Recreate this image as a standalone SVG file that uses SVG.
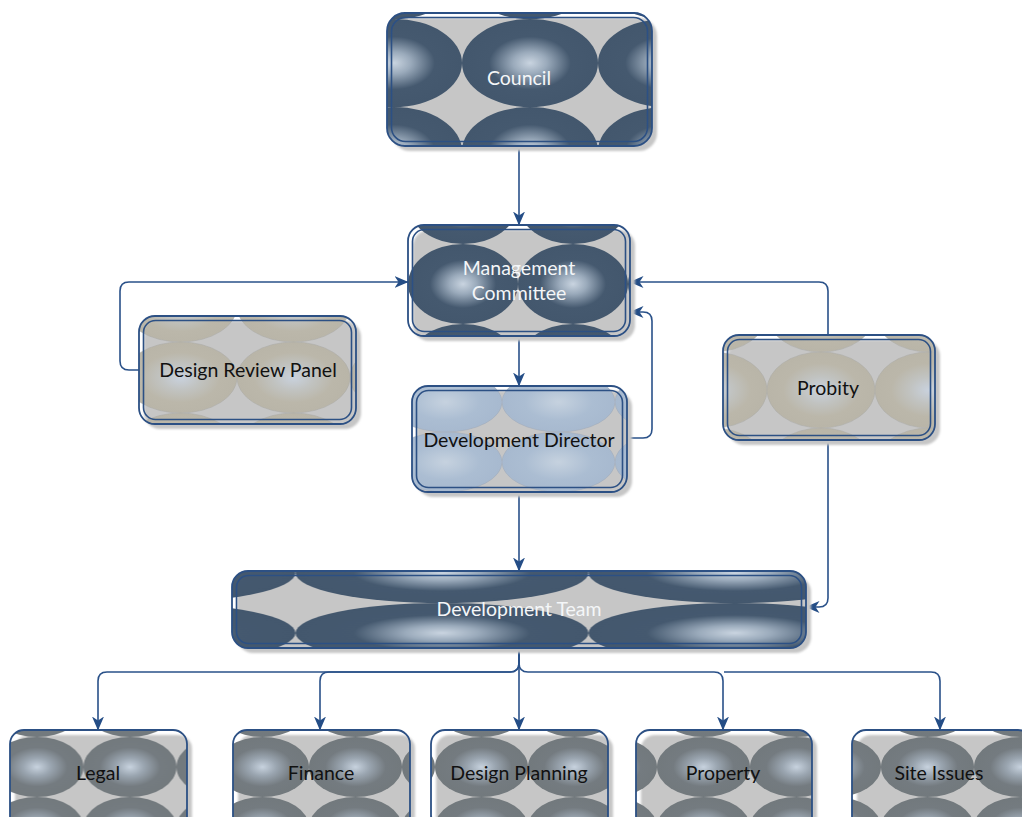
<svg xmlns="http://www.w3.org/2000/svg" width="1022" height="817" viewBox="0 0 1022 817">
<style>
.bg{fill:#ffffff}
.shadow{fill:#c6c6c6;filter:url(#blur)}
.ob{fill:none;stroke:#2c5084;stroke-width:1.8}
.ib{fill:none;stroke:#2c5084;stroke-width:1.6}
.conn{fill:none;stroke:#2a5189;stroke-width:1.6;marker-end:url(#arr)}
.conn2{fill:none;stroke:#2a5189;stroke-width:1.6}
.t{font-family:Lato,"Liberation Sans",sans-serif;font-size:19.5px;text-anchor:middle}
.tw{fill:#f4f6f8}
.tb{fill:#111111}
</style>
<defs>
<filter id="blur" x="-5%" y="-5%" width="110%" height="110%"><feGaussianBlur stdDeviation="1.2"/></filter>
<radialGradient id="g-dark" cx="0.5" cy="0.5" r="0.5">
<stop offset="0" stop-color="#c9d4e0"/>
<stop offset="0.25" stop-color="#9aaabb"/>
<stop offset="0.6" stop-color="#45596f"/>
<stop offset="1" stop-color="#43576d"/>
</radialGradient>
<radialGradient id="g-tan" cx="0.5" cy="0.5" r="0.5">
<stop offset="0" stop-color="#c9d2de"/>
<stop offset="0.35" stop-color="#c1c3c1"/>
<stop offset="0.7" stop-color="#bbb7aa"/>
<stop offset="1" stop-color="#b9b5a8"/>
</radialGradient>
<radialGradient id="g-blue" cx="0.5" cy="0.5" r="0.5">
<stop offset="0" stop-color="#c6d2df"/>
<stop offset="0.6" stop-color="#abbdd2"/>
<stop offset="1" stop-color="#a7b9cf"/>
</radialGradient>
<radialGradient id="g-grey" cx="0.5" cy="0.5" r="0.5">
<stop offset="0" stop-color="#c7d2de"/>
<stop offset="0.3" stop-color="#9aa5b0"/>
<stop offset="0.65" stop-color="#747b80"/>
<stop offset="1" stop-color="#72797d"/>
</radialGradient>
<pattern id="p-council" patternUnits="userSpaceOnUse" x="462" y="19" width="136" height="88"><ellipse cx="68" cy="44" rx="68" ry="44" fill="url(#g-dark)"/></pattern>
<pattern id="p-mgmt" patternUnits="userSpaceOnUse" x="408" y="244" width="110" height="80"><ellipse cx="55" cy="40" rx="55" ry="40" fill="url(#g-dark)"/></pattern>
<pattern id="p-drp" patternUnits="userSpaceOnUse" x="124" y="342" width="113" height="71"><ellipse cx="56.5" cy="35.5" rx="56.5" ry="35.5" fill="url(#g-tan)" stroke="#a9a9a4" stroke-width="0.5"/></pattern>
<pattern id="p-probity" patternUnits="userSpaceOnUse" x="767" y="352" width="108" height="76"><ellipse cx="54" cy="38" rx="54" ry="38" fill="url(#g-tan)" stroke="#a9a9a4" stroke-width="0.5"/></pattern>
<pattern id="p-dd" patternUnits="userSpaceOnUse" x="389" y="372" width="113" height="60"><ellipse cx="56.5" cy="30" rx="56.5" ry="30" fill="url(#g-blue)" stroke="#a0a8b4" stroke-width="0.5"/></pattern>
<pattern id="p-team" patternUnits="userSpaceOnUse" x="295.5" y="543" width="293" height="60"><ellipse cx="146.5" cy="30" rx="146.5" ry="30" fill="url(#g-dark)"/></pattern>
<pattern id="p-legal" patternUnits="userSpaceOnUse" x="83.5" y="737" width="93" height="60"><ellipse cx="46.5" cy="30" rx="46.5" ry="30" fill="url(#g-grey)"/></pattern>
<pattern id="p-finance" patternUnits="userSpaceOnUse" x="309" y="737" width="93" height="60"><ellipse cx="46.5" cy="30" rx="46.5" ry="30" fill="url(#g-grey)"/></pattern>
<pattern id="p-dp" patternUnits="userSpaceOnUse" x="435" y="737" width="93" height="60"><ellipse cx="46.5" cy="30" rx="46.5" ry="30" fill="url(#g-grey)"/></pattern>
<pattern id="p-prop" patternUnits="userSpaceOnUse" x="657" y="737" width="93" height="60"><ellipse cx="46.5" cy="30" rx="46.5" ry="30" fill="url(#g-grey)"/></pattern>
<pattern id="p-site" patternUnits="userSpaceOnUse" x="881" y="737" width="93" height="60"><ellipse cx="46.5" cy="30" rx="46.5" ry="30" fill="url(#g-grey)"/></pattern>
<marker id="arr" viewBox="0 0 14 12" refX="13.5" refY="6" markerWidth="14" markerHeight="12" markerUnits="userSpaceOnUse" orient="auto">
<path d="M0,0 L14,6 L0,12 L4,6 Z" fill="#244d86"/>
</marker>
</defs>
<rect class="bg" x="0" y="0" width="1022" height="817"/>

<g id="connectors">
<path class="conn" d="M519,146 V225"/>
<path class="conn" d="M519,336 V386"/>
<path class="conn" d="M519,492 V571"/>
<path class="conn" d="M139,370 H129 Q120,370 120,361 V291 Q120,282 129,282 H408"/>
<path class="conn" d="M828,335 V291 Q828,282 819,282 H630"/>
<path class="conn" d="M627,438 H643 Q652,438 652,429 V321 Q652,312 643,312 H630"/>
<path class="conn" d="M828,440 V598 Q828,607 819,607 H806"/>
<path class="conn" d="M519,648 V663 Q519,672 510,672 H107 Q98,672 98,681 V730"/>
<path class="conn" d="M519,648 V663 Q519,672 510,672 H329 Q320,672 320,681 V730"/>
<path class="conn" d="M519,648 V730"/>
<path class="conn" d="M519,648 V663 Q519,672 528,672 H714 Q723,672 723,681 V730"/>
<path class="conn" d="M724,672 H931 Q940,672 940,681 V730"/>
</g>

<g id="council">
<rect class="shadow" x="392" y="18" width="265" height="133" rx="18"/>
<rect x="387" y="13" width="265" height="133" rx="18" fill="url(#p-council)"/>
<rect class="ob" x="387" y="13" width="265" height="133" rx="18"/>
<rect class="ib" x="391.5" y="17.5" width="256" height="124" rx="14"/>
<text class="t tw" x="519" y="85">Council</text>
</g>

<g id="management-committee">
<rect class="shadow" x="413" y="230" width="222" height="111" rx="16"/>
<rect x="408" y="225" width="222" height="111" rx="16" fill="url(#p-mgmt)"/>
<rect class="ob" x="408" y="225" width="222" height="111" rx="16"/>
<rect class="ib" x="412.5" y="229.5" width="213" height="102" rx="12"/>
<text class="t tw" x="519" y="275">Management</text>
<text class="t tw" x="519" y="300">Committee</text>
</g>

<g id="design-review-panel">
<rect class="shadow" x="144" y="321" width="217" height="108" rx="16"/>
<rect x="139" y="316" width="217" height="108" rx="16" fill="url(#p-drp)"/>
<rect class="ob" x="139" y="316" width="217" height="108" rx="16"/>
<rect class="ib" x="143.5" y="320.5" width="208" height="99" rx="12"/>
<text class="t tb" x="248" y="377">Design Review Panel</text>
</g>

<g id="probity">
<rect class="shadow" x="728" y="340" width="212" height="105" rx="16"/>
<rect x="723" y="335" width="212" height="105" rx="16" fill="url(#p-probity)"/>
<rect class="ob" x="723" y="335" width="212" height="105" rx="16"/>
<rect class="ib" x="727.5" y="339.5" width="203" height="96" rx="12"/>
<text class="t tb" x="828" y="395">Probity</text>
</g>

<g id="development-director">
<rect class="shadow" x="417" y="391" width="215" height="106" rx="16"/>
<rect x="412" y="386" width="215" height="106" rx="16" fill="url(#p-dd)"/>
<rect class="ob" x="412" y="386" width="215" height="106" rx="16"/>
<rect class="ib" x="416.5" y="390.5" width="206" height="97" rx="12"/>
<text class="t tb" x="519" y="447">Development Director</text>
</g>

<g id="development-team">
<rect class="shadow" x="237" y="576" width="574" height="77" rx="16"/>
<rect x="232" y="571" width="574" height="77" rx="16" fill="url(#p-team)"/>
<rect class="ob" x="232" y="571" width="574" height="77" rx="16"/>
<rect class="ib" x="236.5" y="575.5" width="565" height="68" rx="12"/>
<text class="t tw" x="519" y="616">Development Team</text>
</g>

<g id="legal">
<rect class="shadow" x="15" y="735" width="177" height="100" rx="14"/>
<rect x="10" y="730" width="177" height="100" rx="14" fill="url(#p-legal)"/>
<rect class="ob" x="10" y="730" width="177" height="100" rx="14" stroke-width="1.5"/>
<text class="t tb" x="98" y="780">Legal</text>
</g>

<g id="finance">
<rect class="shadow" x="238" y="735" width="177" height="100" rx="14"/>
<rect x="233" y="730" width="177" height="100" rx="14" fill="url(#p-finance)"/>
<rect class="ob" x="233" y="730" width="177" height="100" rx="14" stroke-width="1.5"/>
<text class="t tb" x="321" y="780">Finance</text>
</g>

<g id="design-planning">
<rect class="shadow" x="436" y="735" width="177" height="100" rx="14"/>
<rect x="431" y="730" width="177" height="100" rx="14" fill="url(#p-dp)"/>
<rect class="ob" x="431" y="730" width="177" height="100" rx="14" stroke-width="1.5"/>
<text class="t tb" x="519" y="780">Design Planning</text>
</g>

<g id="property">
<rect class="shadow" x="641" y="735" width="176" height="100" rx="14"/>
<rect x="636" y="730" width="176" height="100" rx="14" fill="url(#p-prop)"/>
<rect class="ob" x="636" y="730" width="176" height="100" rx="14" stroke-width="1.5"/>
<text class="t tb" x="723" y="780">Property</text>
</g>

<g id="site-issues">
<rect class="shadow" x="857" y="735" width="180" height="100" rx="14"/>
<rect x="852" y="730" width="180" height="100" rx="14" fill="url(#p-site)"/>
<rect class="ob" x="852" y="730" width="180" height="100" rx="14" stroke-width="1.5"/>
<text class="t tb" x="939" y="780">Site Issues</text>
</g>
</svg>
